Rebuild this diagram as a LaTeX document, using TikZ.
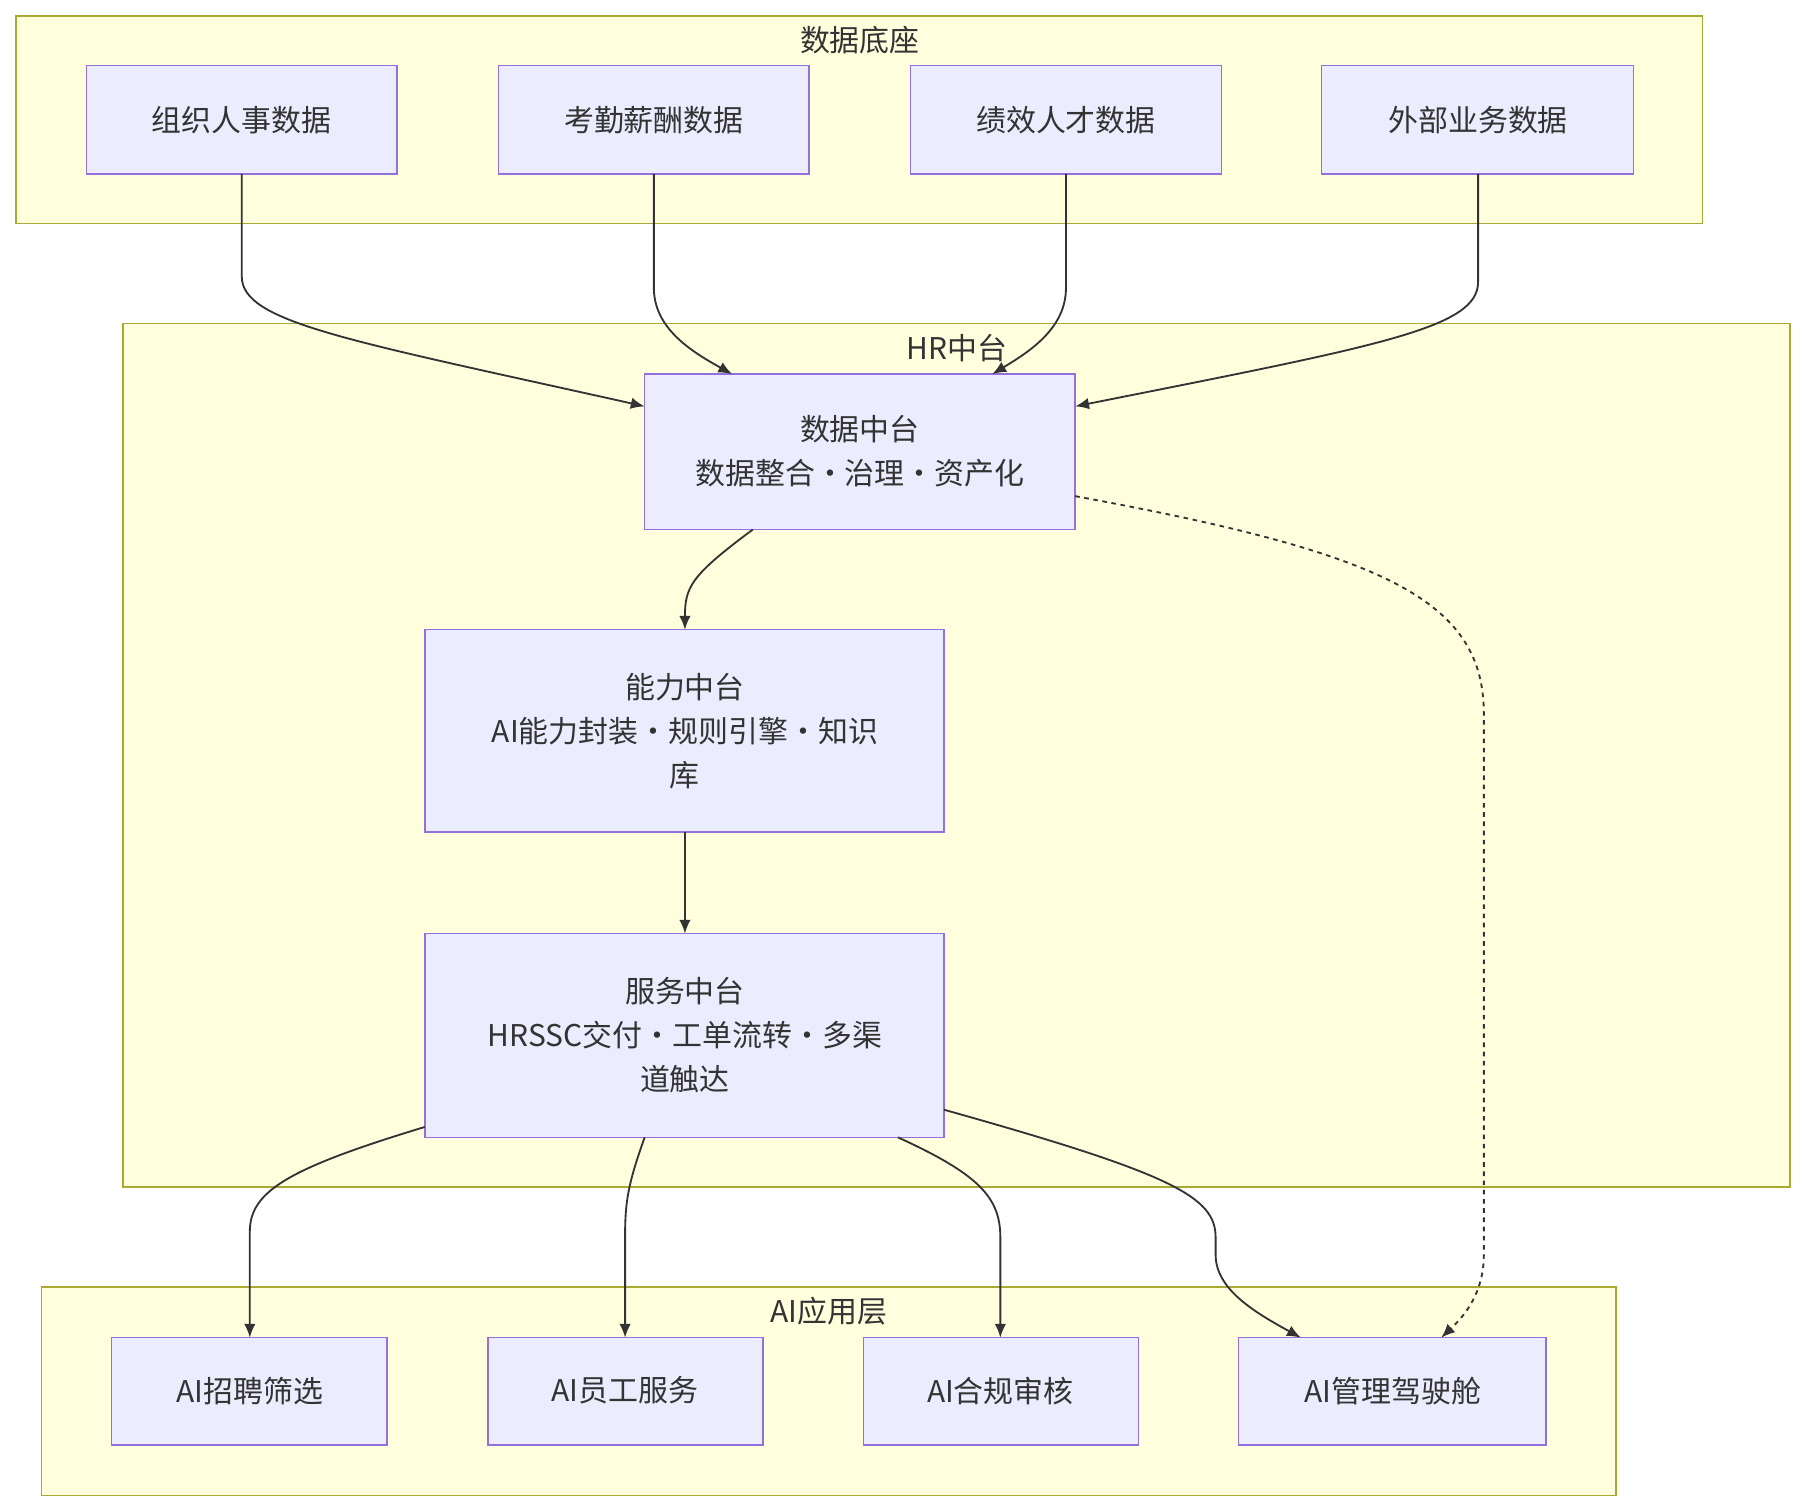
\documentclass[tikz,border=0pt]{standalone}
\usepackage{fontspec}
\setmainfont{Noto Sans CJK SC}
\usetikzlibrary{arrows.meta}
\definecolor{nfill}{HTML}{ECECFF}
\definecolor{ndraw}{HTML}{9370DB}
\definecolor{gfill}{HTML}{FFFFDE}
\definecolor{gdraw}{HTML}{AAAA33}
\definecolor{ed}{HTML}{333333}
\begin{document}
\begin{tikzpicture}[x=0.5pt,y=-0.5pt,
  grp/.style={fill=gfill,draw=gdraw,line width=0.7pt},
  box/.style={fill=nfill,draw=ndraw,line width=0.7pt},
  lbl/.style={font=\fontsize{13}{19}\selectfont,text=ed,align=center},
  edge/.style={draw=ed,line width=0.8pt,-{Latex[length=6pt,width=5pt]}}]
\useasboundingbox (0,0) rectangle (1568,1310);
\fill[white] (0,0) rectangle (1568,1310);
% groups
\draw[grp] (14,14) rectangle (1479,194);
\node[lbl] (g1) at (747,35) {数据底座};
\draw[grp] (107,281) rectangle (1555,1031);
\draw[grp] (36,1118) rectangle (1404,1299);
% top nodes
\draw[box] (75,57) rectangle (345,151); \node[lbl] (a1) at (210,104) {组织人事数据};
\draw[box] (433,57) rectangle (703,151); \node[lbl] (a2) at (568,104) {考勤薪酬数据};
\draw[box] (791,57) rectangle (1061,151); \node[lbl] (a3) at (926,104) {绩效人才数据};
\draw[box] (1148,57) rectangle (1419,151); \node[lbl] (a4) at (1284,104) {外部业务数据};
% middle
\draw[box] (560,325) rectangle (934,460); \node[lbl] (d) at (747,392) {数据中台\\数据整合·治理·资产化};
\draw[box] (369,547) rectangle (820,723); \node[lbl] (n) at (595,635) {能力中台\\AI能力封装·规则引擎·知识\\库};
\draw[box] (369,811) rectangle (820,988); \node[lbl] (s) at (595,899) {服务中台\\HRSSC交付·工单流转·多渠\\道触达};
% bottom
\draw[box] (97,1162) rectangle (336,1255); \node[lbl] (b1) at (217,1208) {AI招聘筛选};
\draw[box] (424,1162) rectangle (663,1255); \node[lbl] (b2) at (543,1208) {AI员工服务};
\draw[box] (750,1162) rectangle (989,1255); \node[lbl] (b3) at (869,1208) {AI合规审核};
\draw[box] (1076,1162) rectangle (1343,1255); \node[lbl] (b4) at (1210,1208) {AI管理驾驶舱};
% edges
\draw[edge] (210,151) -- (210,240) .. controls (210,280) and (300,295) .. (560,353);
\draw[edge] (568,151) -- (568,250) .. controls (568,285) and (600,305) .. (636,325);
\draw[edge] (926,151) -- (926,250) .. controls (926,285) and (895,305) .. (862,325);
\draw[edge] (1284,151) -- (1284,245) .. controls (1284,285) and (1200,300) .. (934,353);
\draw[edge] (654,460) .. controls (600,500) and (595,510) .. (595,547);
\draw[edge] (595,723) -- (595,811);
\draw[edge,dashed,dash pattern=on 2pt off 2pt] (934,431) .. controls (1200,480) and (1289,520) .. (1289,620) -- (1289,1090) .. controls (1289,1125) and (1270,1145) .. (1252,1162);
\draw[edge] (369,979) .. controls (250,1015) and (217,1035) .. (217,1070) -- (217,1162);
\draw[edge] (560,988) .. controls (545,1030) and (543,1045) .. (543,1075) -- (543,1162);
\draw[edge] (780,988) .. controls (850,1020) and (869,1040) .. (869,1075) -- (869,1162);
\draw[edge] (820,964) .. controls (1020,1020) and (1056,1040) .. (1056,1075) -- (1056,1090) .. controls (1056,1120) and (1090,1140) .. (1130,1162);
% labels on top of edges
\node[lbl] (g2) at (831,302) {HR中台};
\node[lbl] (g3) at (720,1139) {AI应用层};
\end{tikzpicture}
\end{document}
